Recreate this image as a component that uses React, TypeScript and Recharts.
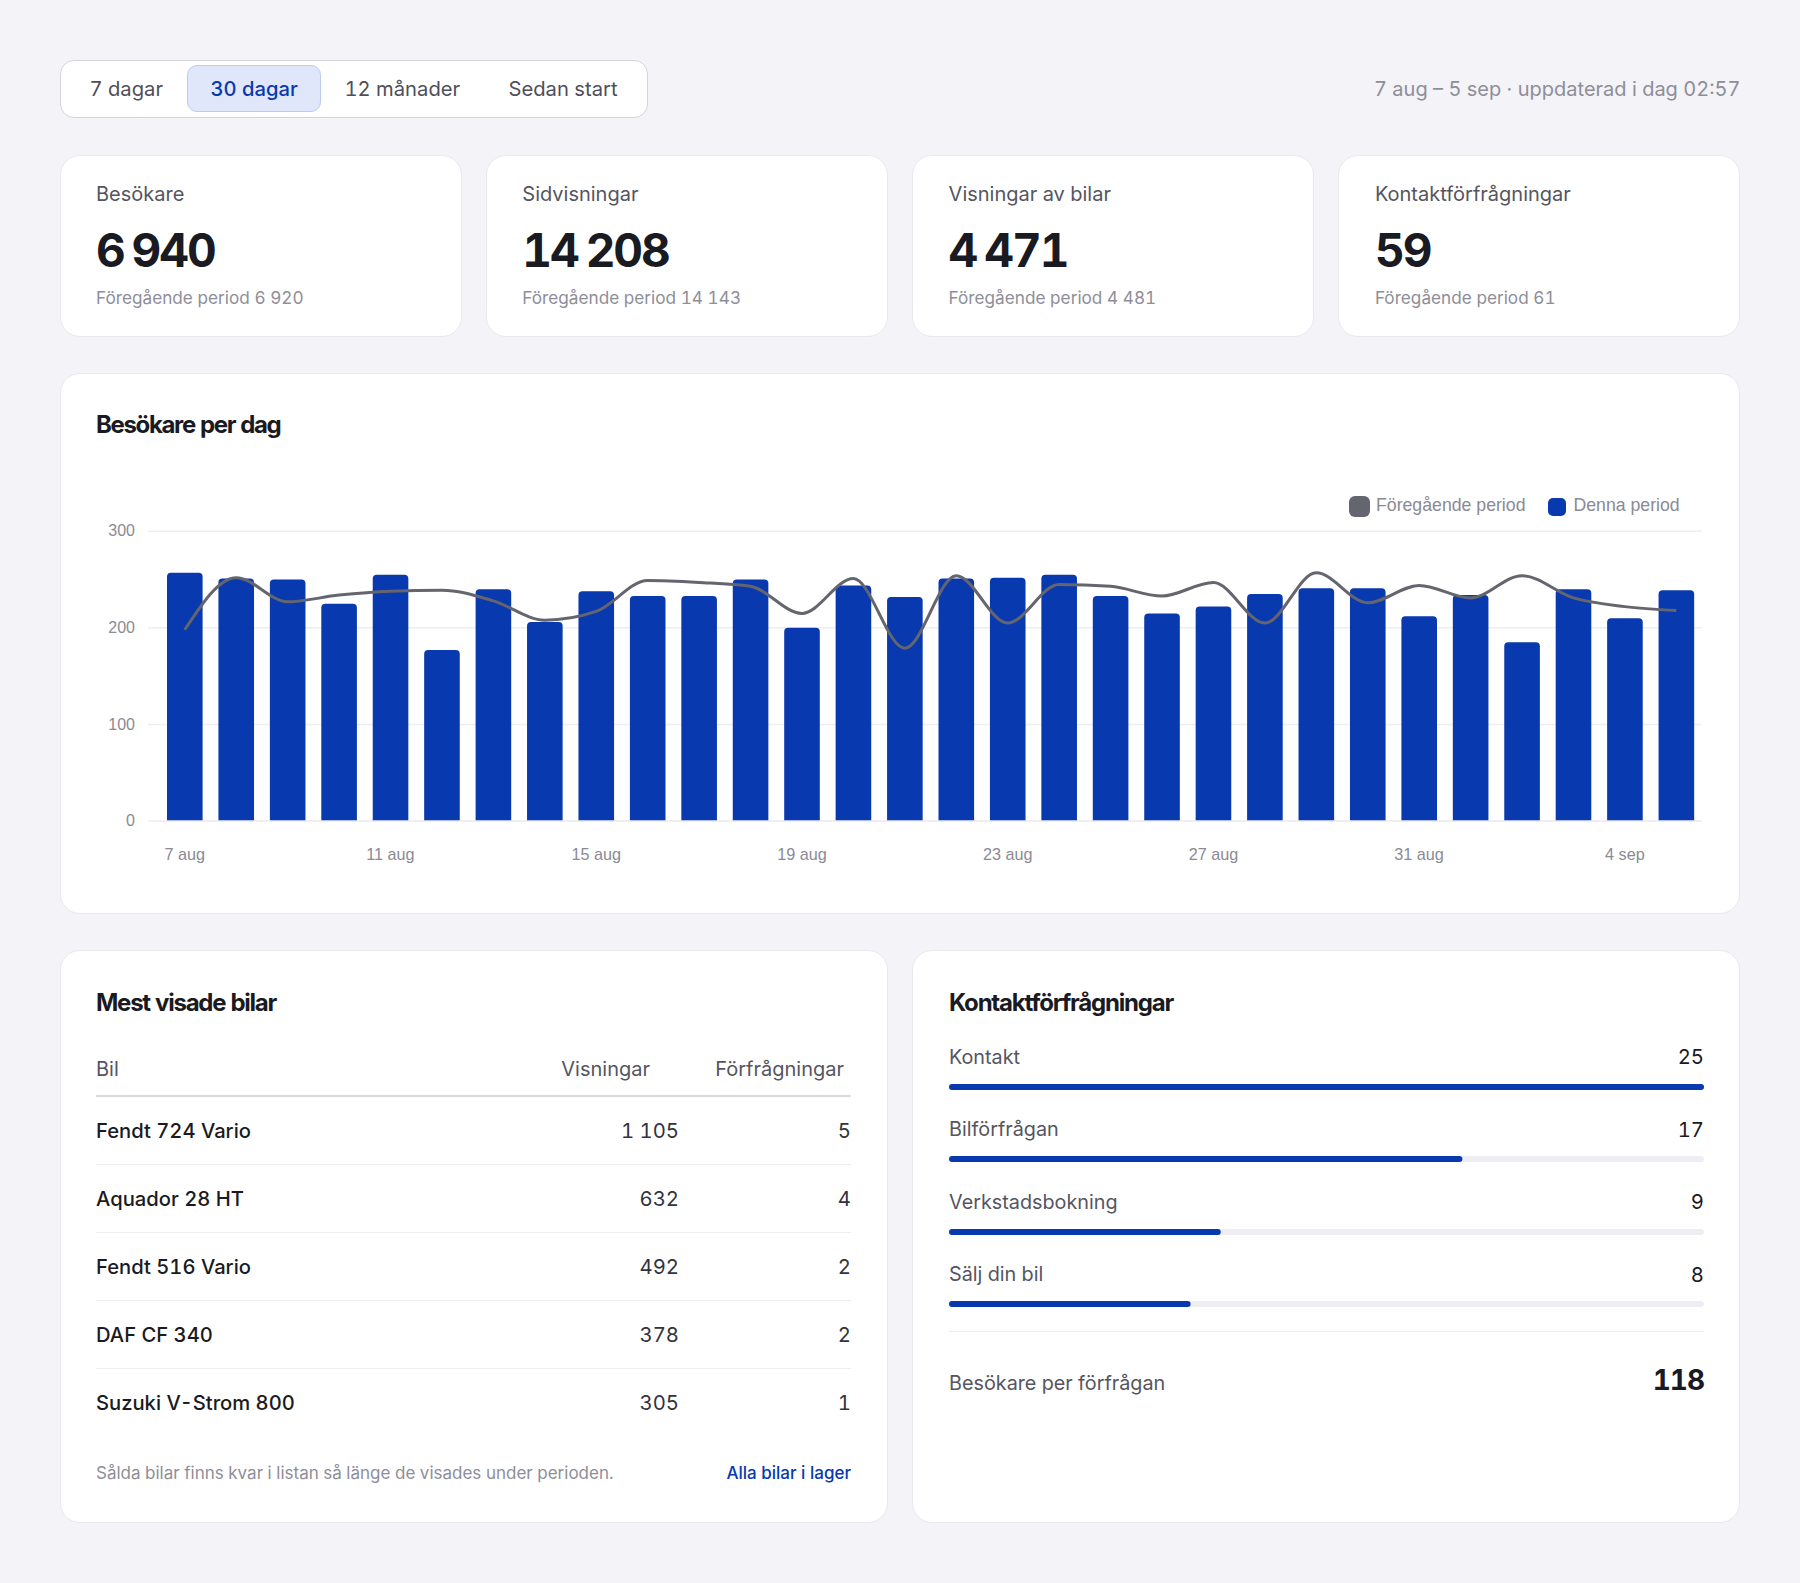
import React from "react";
import { ComposedChart, BarChart, Bar, Line, XAxis, YAxis, CartesianGrid, Legend } from "recharts";

const rangeTabs = ["7 dagar", "30 dagar", "12 månader", "Sedan start"];
const tabLefts = [89.5, 210.5, 344.5, 508.5];
const kpiLabels = ["Besökare", "Sidvisningar", "Visningar av bilar", "Kontaktförfrågningar"];
const kpiValues = ["6 940", "14 208", "4 471", "59"];
const kpiPrev = ["Föregående period 6 920", "Föregående period 14 143", "Föregående period 4 481", "Föregående period 61"];

const days = ["7 aug","8 aug","9 aug","10 aug","11 aug","12 aug","13 aug","14 aug","15 aug","16 aug","17 aug","18 aug","19 aug","20 aug","21 aug","22 aug","23 aug","24 aug","25 aug","26 aug","27 aug","28 aug","29 aug","30 aug","31 aug","1 sep","2 sep","3 sep","4 sep","5 sep"];
const currentPeriod = [257,251,250,225,255,177,240,206,238,233,233,250,200,244,232,251,252,255,233,215,222,235,241,241,212,234,185,240,210,239];
const previousPeriod = [198,252,227,234,238,239,228,208,217,249,247,243,215,251,179,254,205,245,243,233,247,205,257,226,244,231,254,231,222,218];
const chartData = days.map((day, i) => ({ day, current: currentPeriod[i], previous: previousPeriod[i] }));

const carNames = ["Fendt 724 Vario", "Aquador 28 HT", "Fendt 516 Vario", "DAF CF 340", "Suzuki V-Strom 800"];
const carViews = ["1 105", "632", "492", "378", "305"];
const carRequests = [5, 4, 2, 2, 1];

const contactLabels = ["Kontakt", "Bilförfrågan", "Verkstadsbokning", "Sälj din bil"];
const contactValues = [25, 17, 9, 8];
const contactMax = 25;

const BLUE = "#0839ae";
const GRAY = "#65656f";
const GRID = "#eeedf2";
const UI = "Inter, 'Noto Sans', sans-serif";
const CHART_FONT = "'Liberation Sans', Arial, sans-serif";

function T({ x, r, y, size, color, weight = 400, ls = 0, ws = 0, children }: any) {
  const pos: any = r !== undefined ? { right: 1800 - r } : { left: x };
  return (
    <div style={{ position: "absolute", ...pos, top: y, transform: "translateY(-50%)", fontFamily: UI, fontSize: size, color, fontWeight: weight, letterSpacing: ls, wordSpacing: ws, lineHeight: 1.2, whiteSpace: "nowrap", fontVariantNumeric: "tabular-nums" }}>
      {children}
    </div>
  );
}

function Card({ x, y, w, h }: any) {
  return <div style={{ position: "absolute", left: x, top: y, width: w, height: h, boxSizing: "border-box", background: "#fff", border: "1.5px solid #e9e8ee", borderRadius: 20 }} />;
}

function LegendBox({ payload }: any) {
  const items = [...(payload || [])].sort((a: any) => (a.dataKey === "previous" ? -1 : 1));
  return (
    <div style={{ position: "relative", height: 22, width: 1680 }}>
      {items.map((it: any) => {
        const prev = it.dataKey === "previous";
        return (
          <React.Fragment key={it.dataKey}>
            <div style={{ position: "absolute", left: prev ? 1289 : 1488, top: prev ? 0 : 1.5, width: prev ? 21 : 18, height: prev ? 21 : 18, borderRadius: prev ? 6 : 5, background: it.color }} />
            <div style={{ position: "absolute", left: prev ? 1316 : 1513.5, top: -1, fontFamily: CHART_FONT, fontSize: 17.7, lineHeight: "20px", color: "#8a8a94", whiteSpace: "nowrap" }}>{it.value}</div>
          </React.Fragment>
        );
      })}
    </div>
  );
}

function ProgressBar({ value }: { value: number }) {
  return (
    <BarChart layout="vertical" width={755} height={6} data={[{ value }]} margin={{ top: 0, right: 0, bottom: 0, left: 0 }} barCategoryGap={0}>
      <XAxis type="number" hide domain={[0, contactMax]} />
      <YAxis type="category" hide width={0} />
      <Bar dataKey="value" fill={BLUE} radius={3} background={{ fill: "#eeedf3", radius: 3 }} isAnimationActive={false} />
    </BarChart>
  );
}

const kpiLefts = [60, 486, 912, 1338];
const rowYs = [1130.5, 1198.6, 1266.7, 1334.8, 1402.8];
const sepYs = [1163.5, 1231.5, 1299.5, 1367.5];
const contactTextYs = [1057.5, 1130, 1202.6, 1275];
const contactBarYs = [1083.5, 1156, 1228.5, 1301];

export default function App() {
  return (
    <div style={{ position: "absolute", left: 0, top: 0, width: 1800, height: 1583, background: "#f4f3f8", overflow: "hidden" }}>
      <div style={{ position: "absolute", left: 60, top: 59.5, width: 587.5, height: 58.5, boxSizing: "border-box", background: "#fff", border: "1.5px solid #d4d3db", borderRadius: 14 }} />
      <div style={{ position: "absolute", left: 187, top: 65, width: 134, height: 47, boxSizing: "border-box", background: "#e0e7fa", border: "1.5px solid #bccbf2", borderRadius: 10 }} />
      {rangeTabs.map((t, i) => (
        <T key={t} x={tabLefts[i]} y={89} size={20.2} color={i === 1 ? BLUE : "#4f4f5a"} weight={i === 1 ? 500 : 400}>{t}</T>
      ))}
      <T r={1740.5} y={89} size={20} color="#8e8e99">7 aug – 5 sep · uppdaterad i dag 02:57</T>

      {kpiLabels.map((l, i) => (
        <React.Fragment key={l}>
          <Card x={kpiLefts[i]} y={154.5} w={402} h={182} />
          <T x={kpiLefts[i] + 36 + i * 0.3} y={193.5} size={20} color="#55555f">{l}</T>
          <T x={kpiLefts[i] + 36 + i * 0.3} y={251} size={46} color="#1a1a22" weight={700} ls={-2} ws={-2.5}>{kpiValues[i]}</T>
          <T x={kpiLefts[i] + 36 + i * 0.3} y={297.5} size={17.2} color="#8e8e99">{kpiPrev[i]}</T>
        </React.Fragment>
      ))}

      <Card x={60} y={373} w={1680} h={540.5} />
      <T x={96} y={425} size={24} color="#1a1a22" weight={700} ls={-1.35}>Besökare per dag</T>
      <div style={{ position: "absolute", left: 60, top: 480 }}>
        <ComposedChart width={1680} height={420} data={chartData} margin={{ top: 29.3, right: 38, bottom: 39, left: 39 }}>
          <CartesianGrid vertical={false} stroke={GRID} strokeWidth={1.5} />
          <XAxis dataKey="day" interval={3} height={40} tickLine={false} axisLine={{ stroke: GRID, strokeWidth: 1.5 }} tickMargin={21} tick={{ fontFamily: CHART_FONT, fontSize: 16.2, fill: "#8a8a94" }} />
          <YAxis domain={[0, 300]} ticks={[0, 100, 200, 300]} width={60} tickSize={11} tickMargin={13} axisLine={false} tickLine={{ stroke: GRID, strokeWidth: 1.5 }} tick={{ fontFamily: CHART_FONT, fontSize: 16, fill: "#8a8a94", dy: -0.6 }} />
          <Legend verticalAlign="top" align="left" wrapperStyle={{ left: 0, top: 16, width: 1680 }} content={<LegendBox />} />
          <Bar dataKey="current" name="Denna period" fill={BLUE} barSize={35.6} radius={[4, 4, 0, 0]} isAnimationActive={false} />
          <Line dataKey="previous" name="Föregående period" type="monotone" stroke={GRAY} strokeWidth={3} dot={false} activeDot={false} isAnimationActive={false} />
        </ComposedChart>
      </div>

      <Card x={60} y={950} w={828} h={573} />
      <T x={96} y={1002.5} size={24} color="#1a1a22" weight={700} ls={-1.25}>Mest visade bilar</T>
      <T x={96} y={1068.5} size={20} color="#55555f">Bil</T>
      <T r={650} y={1068.5} size={20} color="#55555f">Visningar</T>
      <T r={844} y={1068.5} size={20} color="#55555f">Förfrågningar</T>
      <div style={{ position: "absolute", left: 96, top: 1095, width: 755, height: 2, background: "#d9d8df" }} />
      {carNames.map((c, i) => (
        <React.Fragment key={c}>
          <T x={96} y={rowYs[i]} size={20.2} color="#1a1a22" weight={500}>{c}</T>
          <T r={679} y={rowYs[i]} size={20.3} color="#33333d">{carViews[i]}</T>
          <T r={851} y={rowYs[i]} size={20.3} color="#33333d">{carRequests[i]}</T>
        </React.Fragment>
      ))}
      {sepYs.map((y) => <div key={y} style={{ position: "absolute", left: 96, top: y, width: 755, height: 1.5, background: "#eeedf2" }} />)}
      <T x={96} y={1472.5} size={17} color="#8e8e99">Sålda bilar finns kvar i listan så länge de visades under perioden.</T>
      <T r={851} y={1472.5} size={17} color={BLUE} weight={500}>Alla bilar i lager</T>

      <Card x={912} y={950} w={828} h={573} />
      <T x={949} y={1002.5} size={24} color="#1a1a22" weight={700} ls={-1.2}>Kontaktförfrågningar</T>
      {contactLabels.map((c, i) => (
        <React.Fragment key={c}>
          <T x={949} y={contactTextYs[i]} size={19.8} color="#55555f">{c}</T>
          <T r={1704} y={contactTextYs[i] - 0.5} size={20.3} color="#1a1a22">{contactValues[i]}</T>
          <div style={{ position: "absolute", left: 949, top: contactBarYs[i] }}>
            <ProgressBar value={contactValues[i]} />
          </div>
        </React.Fragment>
      ))}
      <div style={{ position: "absolute", left: 949, top: 1330.5, width: 755, height: 1.5, background: "#eeedf2" }} />
      <T x={949} y={1384} size={19.8} color="#55555f">Besökare per förfrågan</T>
      <T r={1704} y={1381} size={28} color="#1a1a22" weight={700} ls={-1}>118</T>
    </div>
  );
}
